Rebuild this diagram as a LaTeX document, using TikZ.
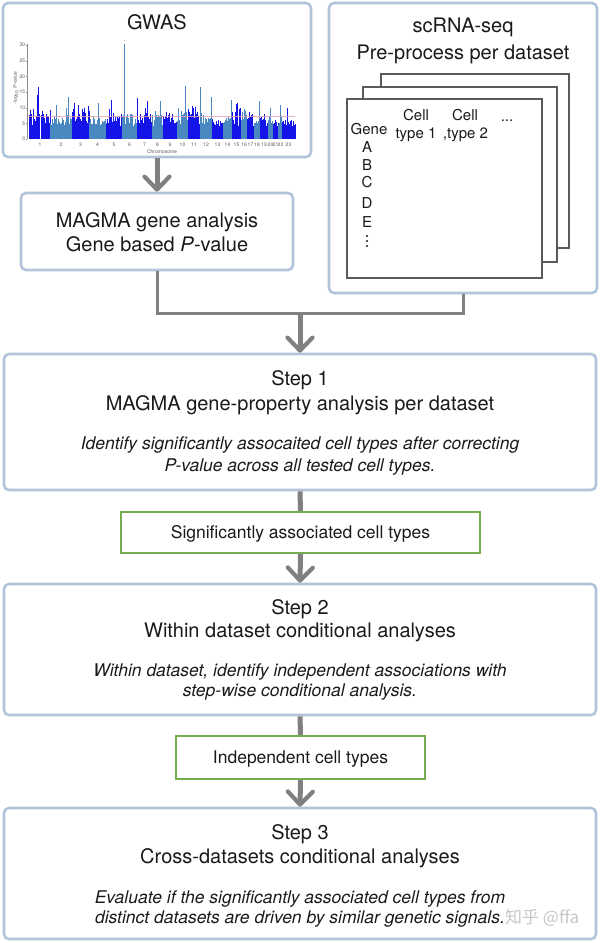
\documentclass[tikz,border=0pt]{standalone}
\usepackage{fontspec}
\setmainfont{TeX Gyre Heros}
\newfontfamily\cjkfont{Noto Sans CJK SC}
\usetikzlibrary{arrows.meta}
\definecolor{boxblue}{HTML}{B3C3DB}
\definecolor{arrowgray}{HTML}{808080}
\definecolor{greenb}{HTML}{73AD4E}
\definecolor{sheetgray}{HTML}{5A5A5A}
\definecolor{txt}{HTML}{1A1A1A}
\definecolor{dk}{HTML}{1414E8}
\definecolor{lt}{HTML}{4A88C2}
\definecolor{sigline}{HTML}{E8A0B0}
\newcommand{\fsz}[2]{\fontsize{#1}{#2}\selectfont}
\begin{document}
\begin{tikzpicture}[x=1pt,y=-1pt,
  bluebox/.style={draw=boxblue, line width=2.6pt, rounded corners=5pt, fill=white, inner sep=0pt},
  greenbox/.style={draw=greenb, line width=2.4pt, fill=white, inner sep=0pt},
  sheet/.style={draw=sheetgray, line width=1.4pt, fill=white, inner sep=0pt},
  maintxt/.style={anchor=base, inner sep=0pt, text=txt, font=\fsz{20}{24}},
  notetxt/.style={anchor=base, inner sep=0pt, text=txt, font=\fsz{17.5}{21}\itshape},
  greentxt/.style={anchor=base, inner sep=0pt, text=txt, font=\fsz{17.5}{21}},
  celltxt/.style={anchor=base, inner sep=0pt, text=txt, font=\fsz{15}{18}},
  tinytxt/.style={inner sep=0pt, text=black!65, font=\fsz{5}{6}},
  flowarrow/.style={draw=arrowgray, line width=5pt, -{Straight Barb[length=13pt,width=25pt,line width=4.2pt,round]}},
  thickline/.style={draw=arrowgray, line width=5pt},
  treeline/.style={draw=arrowgray, line width=3pt}
]
\useasboundingbox (0,0) rectangle (600,943);

% ---------- boxes ----------
\node[bluebox, minimum width=308pt, minimum height=154pt] (gwas) at (157,80) {};
\node[bluebox, minimum width=268pt, minimum height=290pt] (scrna) at (463,148) {};
\node[bluebox, minimum width=272pt, minimum height=77pt] (magma) at (157,231.5) {};
\node[bluebox, minimum width=592pt, minimum height=136pt] (step1) at (300,422) {};
\node[greenbox, minimum width=359pt, minimum height=41pt] (sig) at (300.5,532.5) {};
\node[bluebox, minimum width=592pt, minimum height=131pt] (step2) at (300,649.5) {};
\node[greenbox, minimum width=249pt, minimum height=43pt] (indep) at (300.5,757.5) {};
\node[bluebox, minimum width=592pt, minimum height=131pt] (step3) at (300,873.5) {};

% ---------- connectors ----------
\coordinate (join) at (300,313);
\draw[flowarrow] (gwas.south) -- (magma.north);
\draw[treeline] (magma.south) |- (join) -| (scrna.south);
\draw[flowarrow] (join) -- (step1.north);
\draw[thickline] (step1.south) -- (sig.north);
\draw[flowarrow] (sig.south) -- (step2.north);
\draw[thickline] (step2.south) -- (indep.north);
\draw[flowarrow] (indep.south) -- (step3.north);

% ---------- GWAS ----------
\node[maintxt] (gwast) at (157,29) {GWAS};
\begin{scope}[shift={(0,139)}, y=3.13pt]
  \pgfmathsetseed{11}
  \foreach \xa/\xb/\cl/\bk in {29/50/dk/9.5, 50/72/lt/8, 72/89/dk/11, 89/106/lt/7,
      106/122/dk/9, 122/137/lt/8, 137/152/dk/9, 152/163/lt/9, 163/177/dk/8.5,
      177/188/lt/9, 188/200/dk/10.5, 200/212/lt/8.5, 212/223/dk/6.5, 223/232/lt/7.5,
      232/241/dk/11.5, 241/247/lt/9, 247/254/dk/8.5, 254/260/lt/6.5, 260/268/dk/8,
      268/273/lt/7.5, 273/278/dk/6, 278/282/lt/7.5, 282/295/dk/6.5}{
    \fill[\cl] (\xa,0) rectangle (\xb,4.2);
    \pgfmathsetmacro{\xsec}{\xa+0.8}
    \foreach \xx in {\xa,\xsec,...,\xb}{
      \pgfmathsetmacro{\hh}{4.2+(\bk-4.2)*rnd}
      \draw[\cl, line width=0.6pt] (\xx,0) -- (\xx,\hh);
    }
  }
  \fill[white] (40,0) rectangle (41,9);
  \foreach \px/\ph/\cl in {38/16.5/dk, 37/14/dk, 33/9.5/dk, 56/11/lt, 68/13.5/lt, 66/10/lt, 74/11.5/dk,
      78/11/dk, 84/10/dk, 88/10/dk, 98/11.5/lt, 93/7.5/lt, 111/12.5/dk, 109/9.5/dk,
      137.5/13/dk, 147/12/dk, 145/10/dk, 160/12/lt, 155/9/lt, 166/8.5/dk, 178/10/lt, 185.5/17/lt,
      192/10.5/dk, 196/8/dk, 200.5/16.5/lt, 211/13.5/lt, 231/12.5/lt, 237/11.5/dk,
      240/10/dk, 244/9.5/lt, 249/8.5/dk, 259/12/lt, 264/8/dk, 270/10/lt, 275/6/dk,
      280/11/lt, 287/10/dk}{
    \draw[\cl, line width=0.8pt] (\px,0) -- (\px,\ph);
  }
  \draw[lt, line width=1.6pt] (124.6,0) -- (124.6,30.3);
  \fill[lt] (124.6,31.4) circle (0.5pt);
  \draw[sigline, line width=0.4pt, opacity=0.8] (29,7.3) -- (295,7.3);
  \draw[black!45, line width=0.4pt] (27,0) -- (27,30.5);
  \foreach \v in {0,5,...,30}{
    \draw[black!45, line width=0.4pt] (25.8,\v) -- (27,\v);
    \node[tinytxt, anchor=east] (yt\v) at (25.3,\v) {\v};
  }
\end{scope}
\node[tinytxt, rotate=90] (ylab) at (16,88) {-log\textsubscript{10} \textit{P}-value};
\foreach \cx/\n in {40/1, 61/2, 80.5/3, 97.5/4, 114/5, 129.5/6, 144.5/7, 157.5/8,
    170/9, 182.5/10, 194/11, 206/12, 217.5/13, 227.5/14, 236.5/15, 244/16, 250.5/17,
    257/18, 264/19, 270.5/20, 275.5/21, 280.5/22, 288.5/23}{
  \node[tinytxt] (chr\n) at (\cx,144.5) {\n};
}
\node[tinytxt] (chrlab) at (162,152) {Chromosome};

% ---------- scRNA-seq ----------
\node[maintxt] (sca) at (463,32) {scRNA-seq};
\node[maintxt] (scb) at (463,59) {Pre-process per dataset};
\node[sheet, minimum width=188pt, minimum height=174pt] (sheet3) at (475,161) {};
\node[sheet, minimum width=194pt, minimum height=175pt] (sheet2) at (460,174.5) {};
\node[sheet, minimum width=195pt, minimum height=179pt] (sheet1) at (444.5,188.5) {};
\node[celltxt] (gene) at (369,134) {Gene};
\node[celltxt] (c1a) at (416,120) {Cell};
\node[celltxt] (c1b) at (416,138) {type 1};
\node[celltxt] (c2a) at (465,120) {Cell};
\node[celltxt] (c2b) at (465.5,138) {,type 2};
\node[celltxt] (cdots) at (507,121) {...};
\node[celltxt] (ga) at (367,152) {A};
\node[celltxt] (gb) at (367,170) {B};
\node[celltxt] (gc) at (367,187.5) {C};
\node[celltxt] (gd) at (367,208) {D};
\node[celltxt] (ge) at (367,227) {E};
\foreach \vy in {236,241,246}{\fill[txt] (367,\vy) circle (1.1pt);}

% ---------- MAGMA ----------
\node[maintxt] (ma) at (157,227) {MAGMA gene analysis};
\node[maintxt] (mb) at (157,251) {Gene based \textit{P}-value};

% ---------- Step 1 ----------
\node[maintxt] (s1a) at (300,385) {Step 1};
\node[maintxt] (s1b) at (300,410) {MAGMA gene-property analysis per dataset};
\node[notetxt] (s1c) at (300,449) {Identify significantly assocaited cell types after correcting};
\node[notetxt] (s1d) at (300,471) {P-value across all tested cell types.};
\node[greentxt] (sigt) at (300.5,538) {Significantly associated cell types};

% ---------- Step 2 ----------
\node[maintxt] (s2a) at (300,614) {Step 2};
\node[maintxt] (s2b) at (300,637) {Within dataset conditional analyses};
\node[notetxt] (s2c) at (300,676) {Within dataset, identify independent associations with};
\node[notetxt] (s2d) at (300,696) {step-wise conditional analysis.};
\node[greentxt] (indt) at (300.5,763) {Independent cell types};

% ---------- Step 3 ----------
\node[maintxt] (s3a) at (300,839) {Step 3};
\node[maintxt] (s3b) at (300,863) {Cross-datasets conditional analyses};
\node[notetxt] (s3c) at (300,903) {Evaluate if the significantly associated cell types from};
\node[notetxt] (s3d) at (300,923) {distinct datasets are driven by similar genetic signals.};
\node[anchor=base west, inner sep=0pt, font=\cjkfont\fsz{17}{20}, text=black!22] (wm) at (505,923) {知乎 @ffa};
\end{tikzpicture}
\end{document}
